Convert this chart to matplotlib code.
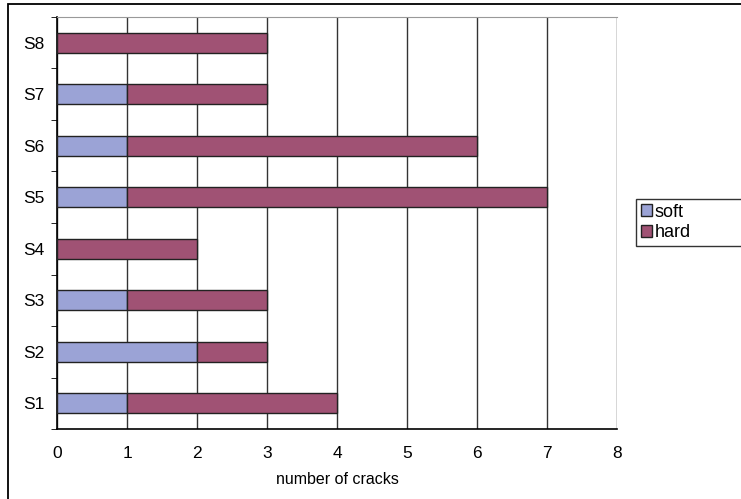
import numpy as np
import matplotlib.pyplot as plt
from matplotlib.patches import Rectangle

plt.rcParams['font.family'] = ['Liberation Sans', 'DejaVu Sans']

samples = ['S1', 'S2', 'S3', 'S4', 'S5', 'S6', 'S7', 'S8']
soft = [1, 2, 1, 0, 1, 1, 1, 0]
hard = [3, 1, 2, 2, 6, 5, 2, 3]

fig = plt.figure(figsize=(7.41, 4.99), dpi=100)
ax = fig.add_axes([57/741, 1 - 429/499, 560/741, 412/499])

y = np.arange(len(samples))
ax.barh(y, soft, height=0.39, color='#9BA3D6', edgecolor='#222222', linewidth=1, label='soft', zorder=3)
ax.barh(y, hard, left=soft, height=0.39, color='#A05274', edgecolor='#222222', linewidth=1, label='hard', zorder=3)

ax.set_xlim(0, 8)
ax.set_ylim(-0.5, len(samples) - 0.5)
ax.set_xticks(range(9))
ax.set_yticks(y)
ax.set_yticklabels(samples)
ax.set_yticks(np.arange(-0.5, len(samples), 1), minor=True)
ax.tick_params(axis='y', which='major', length=0, pad=9, labelsize=12.5)
ax.tick_params(axis='y', which='minor', length=4, direction='out', color='black')
ax.tick_params(axis='x', length=0, pad=12, labelsize=12.5)
ax.xaxis.grid(True, color='#333333', linewidth=1, zorder=0)
ax.set_xlabel('number of cracks', fontsize=11.5, labelpad=8)

for s in ['top', 'right']:
    ax.spines[s].set_color('#999999')
ax.spines['right'].set_visible(False)
for s in ['left', 'bottom']:
    ax.spines[s].set_color('black')
    ax.spines[s].set_linewidth(1.2)

# legend box runs off the right edge like the original
leg = fig.legend(loc='upper left', bbox_to_anchor=(636/741, 1 - 199/499 - 0.2, 0.2, 0.2),
                 mode='expand', fontsize=13,
                 frameon=True, fancybox=False, edgecolor='black', handlelength=0.65,
                 handleheight=0.65, handletextpad=0.15, borderpad=0.25, labelspacing=0.2,
                 borderaxespad=0)
leg.get_frame().set_linewidth(1)

fig.patches.append(Rectangle((8/741, -0.1), 1.2, 1 - 4/499 + 0.1, transform=fig.transFigure,
                             fill=False, edgecolor='black', linewidth=1.3, clip_on=False))

fig.savefig('out.png', dpi=100)
